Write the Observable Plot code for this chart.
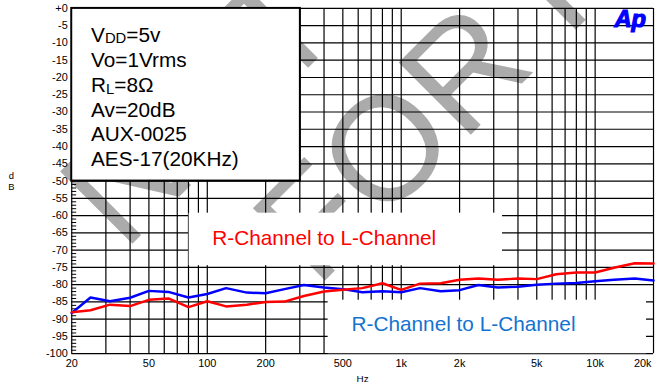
<!DOCTYPE html>
<html><head><meta charset="utf-8">
<script src="https://cdn.jsdelivr.net/npm/d3@7"></script>
<script src="https://cdn.jsdelivr.net/npm/@observablehq/plot@0.6"></script>
<style>
html,body{margin:0;padding:0;overflow:hidden;background:#fff;width:655px;height:387px}
#chart svg{display:block}
</style>
</head><body><div id="chart"></div>
<script>
// ---- data ----
const freqs = [20,25,31.5,40,50,63,80,100,125,160,200,250,315,400,500,630,800,1000,1250,1600,2000,2500,3150,4000,5000,6300,8000,10000,12500,16000,20000];
const redDb = [-88.0,-87.4,-85.8,-86.2,-84.4,-84.0,-86.5,-84.8,-86.3,-85.8,-85.0,-84.9,-83.3,-82.0,-81.5,-81.0,-79.6,-81.5,-79.7,-79.6,-78.6,-78.2,-78.6,-78.2,-78.4,-77.0,-76.5,-76.5,-75.1,-73.8,-73.9];
const blueDb = [-88.2,-83.7,-84.8,-83.8,-81.8,-82.1,-83.7,-82.7,-81.0,-82.3,-82.5,-81.3,-80.1,-80.8,-81.3,-82.2,-81.9,-82.2,-81.0,-81.9,-81.6,-80.1,-80.8,-80.6,-80.0,-79.7,-79.5,-79.0,-78.6,-78.2,-78.8];
const gridFreqs = [20,30,40,50,60,70,80,90,100,200,300,400,500,600,700,800,900,1000,2000,3000,4000,5000,6000,7000,8000,9000,10000,20000];
const gridDb = d3.range(-100, 1, 5);
const minorDb = d3.range(-100, 1, 1).filter(d => d % 5 !== 0);
const xTickValues = [20,50,100,200,500,1000,2000,5000,10000,20000];
const xTickLabels = ["20","50","100","200","500","1k","2k","5k","10k","20k"];
const yTickValues = d3.range(0, -101, -5);
const yTickLabels = ["+0","-5","-10","-15","-20","-25","-30","-35","-40","-45","-50","-55","-60","-65","-70","-75","-80","-85","-90","-95","-100"];
const conditionLines = [["V","DD","=5v"],["Vo=1Vrms"],["R","L","=8Ω"],["Av=20dB"],["AUX-0025"],["AES-17(20KHz)"]];
const seriesLabel = "R-Channel to L-Channel";
const xLabel = "Hz";
const yLabel = "d\nB";
const logoText = "Ap";
const watermarkLines = ["NOT", "FOR RELEASE"];

// ---- layout (annotation placement, data coordinates) ----
const framedBox = [{x1: 20, x2: 302, y1: 0, y2: -50}];
const plainBoxes = [{x1: 80.6, x2: 3330, y1: -59.3, y2: -74.5}, {x1: 420, x2: 18400, y1: -84.5, y2: -100}];
const redLabelAt = {f: 401, db: -66.6};
const blueLabelAt = {f: 2096, db: -91.5};

const rows = freqs.map((f, i) => ({f, red: redDb[i], blue: blueDb[i]}));
const FONT = "'Liberation Sans', Arial, Helvetica, sans-serif";

const chart = Plot.plot({
  width: 662, height: 387,
  marginLeft: 72, marginRight: 2, marginTop: 8, marginBottom: 30,
  style: {fontFamily: FONT, background: "white", overflow: "visible"},
  x: {type: "log", domain: [20, 20000], axis: null},
  y: {domain: [-100, 0], axis: null},
  marks: [
    Plot.ruleX(gridFreqs, {x: d => d, stroke: "#000", strokeWidth: 1.2}),
    Plot.ruleY(gridDb, {y: d => d, stroke: "#000", strokeWidth: 1.2}),
    Plot.tickY(minorDb, {y: d => d, insetRight: 583, stroke: "#000", strokeWidth: 1}),
    Plot.rect(plainBoxes, {x1: "x1", x2: "x2", y1: "y1", y2: "y2", fill: "white"}),
    Plot.rect(framedBox, {x1: "x1", x2: "x2", y1: "y1", y2: "y2", fill: "white", stroke: "#000", strokeWidth: 2}),
    Plot.line(rows, {x: "f", y: "blue", stroke: "#0000ff", strokeWidth: 2.5}),
    Plot.line(rows, {x: "f", y: "red", stroke: "#ff0000", strokeWidth: 2.5}),
    Plot.text(yTickValues, {y: d => d, text: (d, i) => yTickLabels[i], frameAnchor: "left", textAnchor: "end", dx: -4, fontSize: 11, fill: "#000"}),
    Plot.text(xTickValues.slice(0, -1), {x: d => d, text: (d, i) => xTickLabels[i], frameAnchor: "bottom", lineAnchor: "middle", dy: 10, fontSize: 11, fill: "#000"}),
    Plot.text(xTickValues.slice(-1), {x: d => d, text: () => xTickLabels[xTickLabels.length - 1], frameAnchor: "bottom", lineAnchor: "middle", textAnchor: "end", dx: -2, dy: 10, fontSize: 11, fill: "#000"}),
    Plot.text([xLabel], {frameAnchor: "bottom", lineAnchor: "middle", dy: 25, fontSize: 10, fill: "#000"}),
    Plot.text([yLabel], {frameAnchor: "left", y: () => -50, dx: -61, textAnchor: "middle", fontSize: 9.5, lineHeight: 1.15, fill: "#000"}),
    Plot.text([seriesLabel], {x: () => redLabelAt.f, y: () => redLabelAt.db, fontSize: 21, fill: "#ff0000"}),
    Plot.text([seriesLabel], {x: () => blueLabelAt.f, y: () => blueLabelAt.db, fontSize: 21, fill: "#1473d0"})
  ]
});

document.getElementById("chart").append(chart);

const svg = d3.select(chart);
// watermark beneath everything
const wm = svg.insert("g", ":first-child").attr("fill", "#ababab").attr("text-anchor", "start")
  .style("font-family", FONT).style("font-size", "150px");
wm.append("text").attr("text-anchor", "start").attr("transform", "translate(125,255) rotate(-45)").text(watermarkLines[0]);
wm.append("text").attr("text-anchor", "start").attr("transform", "translate(320,292) rotate(-45)").text(watermarkLines[1]);
svg.insert("rect", ":first-child").attr("width", 662).attr("height", 387).attr("fill", "white");

// condition text inside framed box
const box = svg.append("g").attr("text-anchor", "start").style("font-family", FONT).style("font-size", "21px").attr("fill", "#000");
const baselines = [42, 67.5, 93, 118, 143, 168];
conditionLines.forEach((parts, i) => {
  const t = box.append("text").attr("text-anchor", "start").attr("x", 92).attr("y", baselines[i]);
  if (parts.length === 1) { t.text(parts[0]); return; }
  t.append("tspan").text(parts[0]);
  t.append("tspan").attr("dy", 1.5).style("font-size", "15px").text(parts[1]);
  t.append("tspan").attr("dy", -1.5).text(parts[2]);
});

// logo
svg.append("text").attr("text-anchor", "start").attr("x", 621).attr("y", 27)
  .style("font-family", FONT).style("font-size", "24px").style("font-weight", "bold").style("font-style", "italic")
  .attr("fill", "#0000ff").attr("stroke", "#0000ff").attr("stroke-width", 1.2).text(logoText);
</script>
</body></html>
